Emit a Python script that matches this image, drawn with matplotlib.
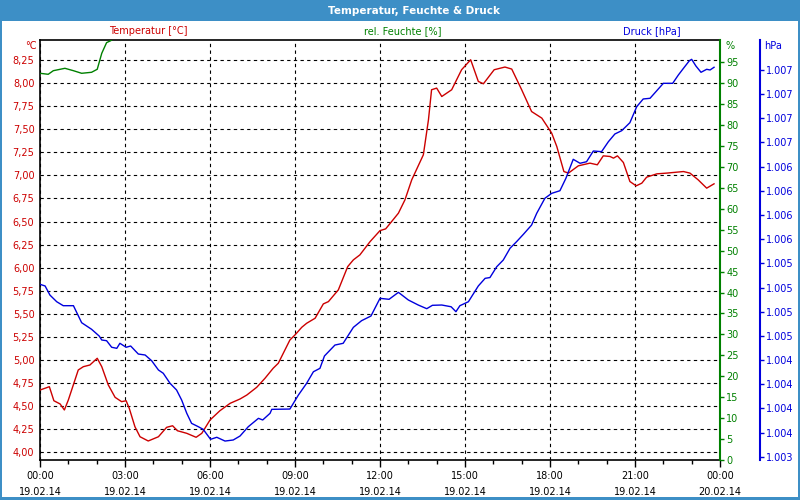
import math
import numpy as np
import matplotlib
matplotlib.use("Agg")
import matplotlib.pyplot as plt
from matplotlib.ticker import FixedLocator, FuncFormatter
from matplotlib.patches import Rectangle

# ---------------- data (hours since 19.02.14 00:00) ----------------
temp_h = [0.00, 0.33, 0.49, 0.71, 0.86, 1.00, 1.35, 1.53, 1.76, 2.02, 2.18, 2.41, 2.65, 2.88,
          3.04, 3.15, 3.35, 3.53, 3.82, 4.18, 4.47, 4.68, 4.85, 5.18, 5.51, 5.71, 6.00, 6.35,
          6.71, 7.06, 7.30, 7.65, 7.94, 8.23, 8.41, 8.82, 9.00, 9.24, 9.41, 9.71, 10.00, 10.18,
          10.53, 10.86, 11.06, 11.29, 11.65, 12.00, 12.20, 12.41, 12.65, 12.88, 13.12, 13.53,
          13.71, 13.82, 14.00, 14.18, 14.53, 14.88, 15.20, 15.47, 15.65, 16.03, 16.41, 16.65,
          17.00, 17.35, 17.71, 18.06, 18.24, 18.49, 18.65, 19.00, 19.41, 19.67, 19.88, 20.12,
          20.24, 20.38, 20.59, 20.82, 21.04, 21.24, 21.41, 21.77, 22.12, 22.71, 22.94, 23.23,
          23.53, 23.79]
temp_c = [4.675, 4.711, 4.559, 4.524, 4.459, 4.567, 4.892, 4.928, 4.946, 5.019, 4.928, 4.730,
          4.596, 4.549, 4.559, 4.477, 4.278, 4.169, 4.123, 4.169, 4.271, 4.288, 4.234, 4.206,
          4.163, 4.206, 4.350, 4.451, 4.531, 4.578, 4.621, 4.705, 4.802, 4.911, 4.965, 5.217,
          5.272, 5.355, 5.398, 5.453, 5.608, 5.633, 5.760, 6.012, 6.085, 6.139, 6.283, 6.402,
          6.421, 6.500, 6.591, 6.735, 6.952, 7.223, 7.602, 7.928, 7.946, 7.855, 7.928, 8.145,
          8.253, 8.018, 7.993, 8.145, 8.174, 8.152, 7.928, 7.692, 7.621, 7.458, 7.313, 7.042,
          7.025, 7.104, 7.133, 7.115, 7.212, 7.205, 7.187, 7.212, 7.140, 6.934, 6.887, 6.916,
          6.981, 7.017, 7.025, 7.042, 7.025, 6.952, 6.862, 6.909]

press_h = [0.00, 0.18, 0.35, 0.59, 0.82, 1.18, 1.47, 1.82, 2.09, 2.18, 2.35, 2.53, 2.71, 2.82,
           3.04, 3.20, 3.47, 3.71, 3.94, 4.18, 4.35, 4.59, 4.82, 5.00, 5.18, 5.35, 5.59, 5.76,
           6.02, 6.24, 6.53, 6.82, 7.06, 7.35, 7.71, 7.86, 8.12, 8.18, 8.82, 9.12, 9.41, 9.65,
           9.88, 10.04, 10.41, 10.70, 11.06, 11.35, 11.68, 12.00, 12.32, 12.65, 13.00, 13.35,
           13.65, 13.85, 14.18, 14.51, 14.68, 14.82, 15.12, 15.47, 15.71, 15.88, 16.12, 16.35,
           16.59, 16.82, 17.06, 17.35, 17.53, 17.82, 18.06, 18.35, 18.56, 18.82, 19.06, 19.29,
           19.53, 19.82, 20.06, 20.29, 20.53, 20.82, 21.06, 21.29, 21.53, 21.77, 22.00, 22.33,
           22.53, 22.71, 22.92, 23.00, 23.15, 23.33, 23.53, 23.65, 23.79]
press_hpa = [1005.033, 1005.016, 1004.922, 1004.853, 1004.812, 1004.812, 1004.636, 1004.568,
             1004.498, 1004.457, 1004.450, 1004.382, 1004.371, 1004.423, 1004.382, 1004.395,
             1004.312, 1004.302, 1004.243, 1004.147, 1004.113, 1004.009, 1003.940, 1003.836,
             1003.699, 1003.595, 1003.560, 1003.533, 1003.430, 1003.451, 1003.412, 1003.423,
             1003.464, 1003.560, 1003.647, 1003.630, 1003.699, 1003.740, 1003.743, 1003.888,
             1004.009, 1004.129, 1004.164, 1004.292, 1004.405, 1004.423, 1004.588, 1004.657,
             1004.705, 1004.888, 1004.878, 1004.950, 1004.871, 1004.819, 1004.781, 1004.816,
             1004.819, 1004.801, 1004.750, 1004.812, 1004.853, 1005.016, 1005.095, 1005.103,
             1005.215, 1005.284, 1005.406, 1005.474, 1005.550, 1005.646, 1005.767, 1005.923,
             1005.974, 1006.001, 1006.129, 1006.326, 1006.285, 1006.301, 1006.412, 1006.405,
             1006.508, 1006.588, 1006.622, 1006.705, 1006.870, 1006.950, 1006.957, 1007.036,
             1007.112, 1007.112, 1007.198, 1007.267, 1007.346, 1007.360, 1007.291, 1007.226,
             1007.257, 1007.250, 1007.278]

hum_h = [0.00, 0.29, 0.47, 0.88, 1.18, 1.47, 1.82, 2.02, 2.18, 2.35, 2.50, 2.62]
hum_pct = [92.35, 92.11, 92.97, 93.54, 92.97, 92.35, 92.59, 93.31, 97.13, 99.67, 100.15, 100.8]

x_ticks = [0, 3, 6, 9, 12, 15, 18, 21, 24]
x_labels = ["00:00\n19.02.14", "03:00\n19.02.14", "06:00\n19.02.14", "09:00\n19.02.14",
            "12:00\n19.02.14", "15:00\n19.02.14", "18:00\n19.02.14", "21:00\n19.02.14",
            "00:00\n20.02.14"]
temp_ticks = [4.00, 4.25, 4.50, 4.75, 5.00, 5.25, 5.50, 5.75, 6.00, 6.25, 6.50, 6.75, 7.00,
              7.25, 7.50, 7.75, 8.00, 8.25]
hum_ticks = list(range(0, 100, 5))
press_ticks = [1003.25, 1003.50, 1003.75, 1004.00, 1004.25, 1004.50, 1004.75, 1005.00,
               1005.25, 1005.50, 1005.75, 1006.00, 1006.25, 1006.50, 1006.75, 1007.00, 1007.25]

# ---------------- styling ----------------
RED = "#cc0000"
GREEN = "#008000"
BLUE = "#0000dd"
FRAME = "#3d8fc6"
FS = 7

W, H = 800, 500
fig = plt.figure(figsize=(8, 5), dpi=100, facecolor="white")

# window frame and title bar
fig.patches.append(Rectangle((0, 1 - 21 / H), 1, 21 / H, transform=fig.transFigure,
                             facecolor=FRAME, edgecolor="none", zorder=0))
fig.patches.append(Rectangle((0, 0), 2 / W, 1, transform=fig.transFigure,
                             facecolor=FRAME, edgecolor="none", zorder=0))
fig.patches.append(Rectangle((1 - 2 / W, 0), 2 / W, 1, transform=fig.transFigure,
                             facecolor=FRAME, edgecolor="none", zorder=0))
fig.patches.append(Rectangle((0, 0), 1, 3 / H, transform=fig.transFigure,
                             facecolor=FRAME, edgecolor="none", zorder=0))
fig.text(414 / W, 1 - 10.5 / H, "Temperatur, Feuchte & Druck", color="white",
         fontsize=7.5, fontweight="bold", ha="center", va="center")

L, R, T, B = 40, 720, 40, 460
ax = fig.add_axes([L / W, 1 - B / H, (R - L) / W, (B - T) / H])
ax.set_facecolor("white")

ax.plot(temp_h, temp_c, color=RED, lw=1.0, zorder=3)
ax.set_xlim(0, 24)
ax.set_ylim(3.917, 8.467)
ax.yaxis.set_major_locator(FixedLocator(temp_ticks))
ax.yaxis.set_major_formatter(FuncFormatter(lambda v, p: f"{v:.2f}".replace(".", ",")))
ax.tick_params(axis="y", length=0, pad=4, labelsize=FS, labelcolor=RED)
ax.xaxis.set_major_locator(FixedLocator(x_ticks))
ax.set_xticklabels(x_labels)
ax.xaxis.set_minor_locator(FixedLocator(range(0, 25)))
ax.tick_params(axis="x", which="major", length=5, width=1, pad=3, labelsize=FS,
               labelcolor="black", direction="out")
ax.tick_params(axis="x", which="minor", length=3, width=1, direction="out")
for lab in ax.get_xticklabels():
    lab.set_linespacing(1.75)
ax.grid(True, which="major", color="black", linestyle=(0, (3, 3)), linewidth=0.8)
for s in ["left", "bottom", "top"]:
    ax.spines[s].set_color("black")
    ax.spines[s].set_linewidth(1.2)
ax.spines["right"].set_visible(False)

# humidity axis
ax2 = ax.twinx()
ax2.plot(hum_h, hum_pct, color=GREEN, lw=1.0, zorder=3)
ax2.set_ylim(0, 100.3)
ax2.yaxis.set_major_locator(FixedLocator(hum_ticks))
ax2.yaxis.set_major_formatter(FuncFormatter(lambda v, p: f"{int(round(v))}"))
ax2.tick_params(axis="y", length=3, width=1, pad=1.5, labelsize=FS, colors=GREEN)
for s in ["left", "bottom", "top"]:
    ax2.spines[s].set_visible(False)
ax2.spines["right"].set_color(GREEN)
ax2.spines["right"].set_linewidth(1.5)

# pressure axis (spine 40 px = 28.8 pt right of the plot)
ax3 = ax.twinx()
ax3.plot(press_h, press_hpa, color=BLUE, lw=1.0, zorder=3)
ax3.set_ylim(1003.216, 1007.56)
ax3.yaxis.set_major_locator(FixedLocator(press_ticks))
ax3.yaxis.set_major_formatter(
    FuncFormatter(lambda v, p: f"{int(math.floor(v + 0.5)):,}".replace(",", ".")))
ax3.spines["right"].set_position(("outward", 28.8))
for s in ["left", "bottom", "top"]:
    ax3.spines[s].set_visible(False)
ax3.spines["right"].set_color(BLUE)
ax3.spines["right"].set_linewidth(1.5)
ax3.tick_params(axis="y", length=3, width=1, pad=1.5, labelsize=FS, colors=BLUE)

# headers and units
fig.text(148 / W, 1 - 31.5 / H, "Temperatur [°C]", color=RED, fontsize=FS,
         ha="center", va="center")
fig.text(403 / W, 1 - 31.5 / H, "rel. Feuchte [%]", color=GREEN, fontsize=FS,
         ha="center", va="center")
fig.text(652 / W, 1 - 31.5 / H, "Druck [hPa]", color=BLUE, fontsize=FS,
         ha="center", va="center")
fig.text(37 / W, 1 - 46 / H, "°C", color=RED, fontsize=FS, ha="right", va="center")
fig.text(725 / W, 1 - 46 / H, "%", color=GREEN, fontsize=FS, ha="left", va="center")
fig.text(764 / W, 1 - 46 / H, "hPa", color=BLUE, fontsize=FS, ha="left", va="center")

fig.savefig("out.png", dpi=100, facecolor="white")
